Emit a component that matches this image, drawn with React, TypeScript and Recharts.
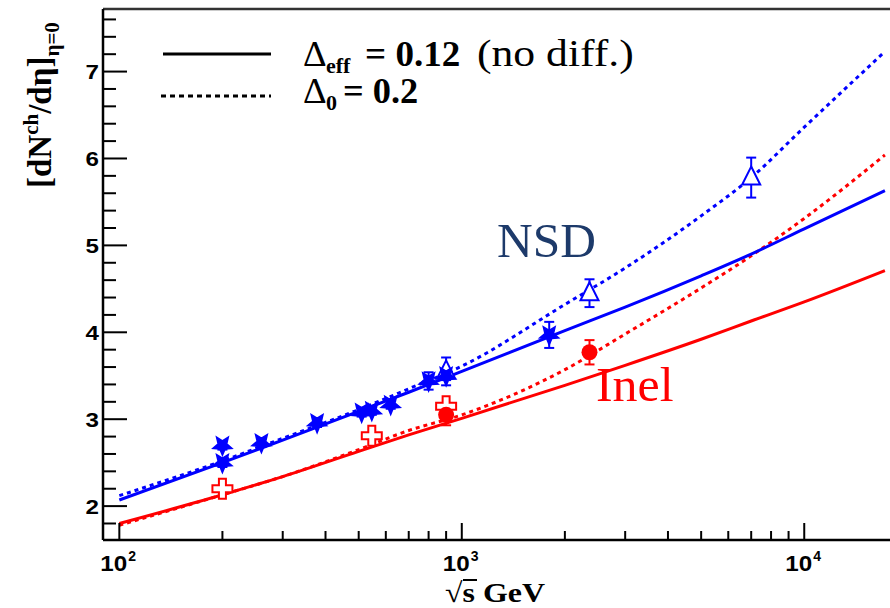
import React from "react";
import { ComposedChart, Line, Scatter, XAxis, YAxis, ErrorBar, ReferenceLine } from "recharts";

const SERIF = "'Liberation Serif', 'Times New Roman', serif";
const SANS = "'Liberation Sans', Arial, sans-serif";
const BLUE = "#0000ff";
const RED = "#ff0000";

// curve sample energies (sqrt(s), GeV)
const curveX = [100, 200, 300, 500, 700, 1000, 2000, 3000, 5000, 7000, 10000, 17200];
const nsdSolidY = [2.07, 2.5, 2.76, 3.09, 3.31, 3.55, 4.02, 4.29, 4.65, 4.9, 5.19, 5.63];
const nsdDottedY = [2.12, 2.52, 2.78, 3.11, 3.35, 3.61, 4.32, 4.74, 5.34, 5.78, 6.36, 7.23];
const inelSolidY = [1.8, 2.13, 2.34, 2.63, 2.82, 3.01, 3.39, 3.62, 3.92, 4.13, 4.35, 4.71];
const inelDottedY = [1.78, 2.13, 2.34, 2.65, 2.87, 3.05, 3.57, 3.98, 4.51, 4.88, 5.31, 6.04];

// data points
const nsdStarX = [200, 200, 260, 378, 510, 546, 620, 800, 900, 1800];
const nsdStarY = [2.7, 2.5, 2.73, 2.96, 3.08, 3.1, 3.17, 3.44, 3.5, 3.97];
const nsdStarErr = [0.05, 0.05, 0.05, 0.05, 0.05, 0.05, 0.05, 0.1, 0.05, 0.15];
const nsdTriX = [900, 2360, 7000];
const nsdTriY = [3.55, 4.45, 5.78];
const nsdTriErr = [0.16, 0.16, 0.23];
const inelCrossX = [200, 546, 900];
const inelCrossY = [2.2, 2.81, 3.15];
const inelCircleX = [900, 2360];
const inelCircleY = [3.05, 3.77];
const inelCircleErr = [0.12, 0.14];

// axes
const xDomain = [89.6, 17800];
const yDomain = [1.61, 7.72];
const xTicks = [100, 200, 300, 400, 500, 600, 700, 800, 900, 1000, 2000, 3000, 4000, 5000, 6000, 7000, 8000, 9000, 10000];
const yTicks = [1.8, 2, 2.2, 2.4, 2.6, 2.8, 3, 3.2, 3.4, 3.6, 3.8, 4, 4.2, 4.4, 4.6, 4.8, 5, 5.2, 5.4, 5.6, 5.8, 6, 6.2, 6.4, 6.6, 6.8, 7, 7.2, 7.4, 7.6];

const zipXY = (xs: number[], ys: number[]) => xs.map((x, i) => ({ x, y: ys[i] }));
const zipErr = (xs: number[], ys: number[], es: number[]) => xs.map((x, i) => ({ x, y: ys[i], err: es[i] }));

const nsdSolid = zipXY(curveX, nsdSolidY);
const nsdDotted = zipXY(curveX, nsdDottedY);
const inelSolid = zipXY(curveX, inelSolidY);
const inelDotted = zipXY(curveX, inelDottedY);
const nsdStars = zipErr(nsdStarX, nsdStarY, nsdStarErr);
const nsdTris = zipErr(nsdTriX, nsdTriY, nsdTriErr);
const inelCrosses = zipXY(inelCrossX, inelCrossY);
const inelCircles = zipErr(inelCircleX, inelCircleY, inelCircleErr);

const Star = (p: any) => {
  const { cx, cy } = p;
  if (cx == null || cy == null) return null;
  const pts: string[] = [];
  for (let i = 0; i < 10; i++) {
    const r = i % 2 === 0 ? 10 : 4.5;
    const a = Math.PI / 2 + (i * Math.PI) / 5;
    pts.push(`${cx + r * Math.cos(a)},${cy + r * Math.sin(a)}`);
  }
  return <polygon points={pts.join(" ")} fill={BLUE} stroke={BLUE} strokeWidth={1.5} />;
};

const Tri = (p: any) => {
  const { cx, cy } = p;
  if (cx == null || cy == null) return null;
  return (
    <polygon
      points={`${cx},${cy - 11} ${cx - 9},${cy + 7} ${cx + 9},${cy + 7}`}
      fill="#fff"
      stroke={BLUE}
      strokeWidth={2}
    />
  );
};

const Cross = (p: any) => {
  const { cx, cy } = p;
  if (cx == null || cy == null) return null;
  const a = 3.5;
  const L = 10;
  const d = `M${cx - a},${cy - L} H${cx + a} V${cy - a} H${cx + L} V${cy + a} H${cx + a} V${cy + L} H${cx - a} V${cy + a} H${cx - L} V${cy - a} H${cx - a} Z`;
  return <path d={d} fill="#fff" stroke={RED} strokeWidth={2} />;
};

const Dot = (p: any) => {
  const { cx, cy } = p;
  if (cx == null || cy == null) return null;
  return <circle cx={cx} cy={cy} r={8} fill={RED} />;
};

const YTick = (props: any) => {
  const { x, y, payload } = props;
  const v = payload.value;
  const major = Math.abs(v - Math.round(v)) < 1e-6;
  return (
    <g>
      <line x1={x} x2={x + (major ? 24 : 13)} y1={y} y2={y} stroke="#000" strokeWidth={2} />
      {major && (
        <text
          transform={`translate(${x - 4},${y + 7.5}) scale(1.15,1)`}
          textAnchor="end"
          fontSize={21}
          fontWeight="bold"
          fontFamily={SANS}
          fill="#000"
        >
          {Math.round(v)}
        </text>
      )}
    </g>
  );
};

const XTick = (props: any) => {
  const { x, y, payload } = props;
  const v = payload.value;
  const e = Math.round(Math.log10(v));
  const major = Math.abs(v - Math.pow(10, e)) < 1e-6;
  return (
    <g>
      <line x1={x} x2={x} y1={y} y2={y - (major ? 17 : 9)} stroke="#000" strokeWidth={2} />
      {major && (
        <g>
          <text
            transform={`translate(${x - 19},${y + 31}) scale(1.1,1)`}
            fontSize={22}
            fontWeight="bold"
            fontFamily={SANS}
            fill="#000"
          >
            10
          </text>
          <text transform={`translate(${x + 9},${y + 21})`} fontSize={14} fontWeight="bold" fontFamily={SANS} fill="#000">
            {e}
          </text>
        </g>
      )}
    </g>
  );
};

const T = (p: any) => {
  const { x, y, size, sx = 1, weight = "normal", fill = "#000", anchor = "start", family = SERIF, children } = p;
  return (
    <text
      transform={`translate(${x},${y}) scale(${sx},1)`}
      fontSize={size}
      fontWeight={weight}
      fill={fill}
      textAnchor={anchor}
      fontFamily={family}
    >
      {children}
    </text>
  );
};

export default function App() {
  return (
    <div style={{ position: "absolute", left: 0, top: 0, width: 890, height: 608, overflow: "hidden", background: "#fff" }}>
      <ComposedChart width={890} height={608} margin={{ top: 9, right: 0, bottom: 0, left: 43 }}>
        <XAxis
          type="number"
          dataKey="x"
          scale="log"
          domain={xDomain}
          allowDataOverflow
          ticks={xTicks}
          interval={0}
          tickSize={0}
          tickMargin={0}
          tick={XTick}
          tickLine={false}
          axisLine={{ stroke: "#000", strokeWidth: 2.5 }}
          height={68}
        />
        <YAxis
          type="number"
          domain={yDomain}
          allowDataOverflow
          ticks={yTicks}
          interval={0}
          width={60}
          tickSize={0}
          tickMargin={0}
          tick={YTick}
          tickLine={false}
          axisLine={{ stroke: "#000", strokeWidth: 2.5 }}
        />
        <ReferenceLine y={yDomain[1]} stroke="#333" strokeWidth={2.5} />
        <Line data={inelSolid} dataKey="y" type="monotone" stroke={RED} strokeWidth={3} dot={false} isAnimationActive={false} />
        <Line data={inelDotted} dataKey="y" type="monotone" stroke={RED} strokeWidth={3} strokeDasharray="4 4" dot={false} isAnimationActive={false} />
        <Line data={nsdSolid} dataKey="y" type="monotone" stroke={BLUE} strokeWidth={3} dot={false} isAnimationActive={false} />
        <Line data={nsdDotted} dataKey="y" type="monotone" stroke={BLUE} strokeWidth={3} strokeDasharray="4 4" dot={false} isAnimationActive={false} />
        <Scatter data={inelCrosses} dataKey="y" shape={Cross} isAnimationActive={false} />
        <Scatter data={inelCircles} dataKey="y" shape={Dot} isAnimationActive={false}>
          <ErrorBar dataKey="err" direction="y" width={5} stroke={RED} strokeWidth={2} />
        </Scatter>
        <Scatter data={nsdTris} dataKey="y" shape={Tri} isAnimationActive={false}>
          <ErrorBar dataKey="err" direction="y" width={5} stroke={BLUE} strokeWidth={2} />
        </Scatter>
        <Scatter data={nsdStars} dataKey="y" shape={Star} isAnimationActive={false}>
          <ErrorBar dataKey="err" direction="y" width={5} stroke={BLUE} strokeWidth={2} />
        </Scatter>
      </ComposedChart>
      <svg width={890} height={608} style={{ position: "absolute", left: 0, top: 0, pointerEvents: "none" }}>
        {/* legend */}
        <line x1={163} x2={271} y1={54} y2={54} stroke="#000" strokeWidth={3} />
        <line x1={161} x2={271} y1={96} y2={96} stroke="#000" strokeWidth={3} strokeDasharray="5 4" />
        <T x={303} y={66} size={35} sx={1.05}>Δ</T>
        <T x={326} y={73} size={20} sx={1.1} weight="bold">eff</T>
        <T x={365} y={66} size={35} sx={1.06} weight="bold">= 0.12</T>
        <T x={477} y={66} size={39} sx={1.12}>(no diff.)</T>
        <T x={303} y={103} size={35} sx={1.05}>Δ</T>
        <T x={326} y={110} size={20} sx={1.1} weight="bold">0</T>
        <T x={343} y={103} size={35} sx={1.04} weight="bold">= 0.2</T>
        {/* curve labels */}
        <T x={497} y={257} size={48} sx={1.03} fill="#1d3a6a">NSD</T>
        <T x={596} y={401} size={48} sx={1.04} fill={RED}>Inel</T>
        {/* axis titles */}
        <text transform="translate(51,188) rotate(-90)" fontFamily={SERIF} fontWeight="bold" fontSize={33} fill="#000">
          [dN
          <tspan fontSize={21} dy={-13}>ch</tspan>
          <tspan dy={13}>/dη]</tspan>
          <tspan fontSize={21} dy={8}>η=0</tspan>
        </text>
        <T x={445} y={602} size={28} sx={1.14} weight="bold">√s GeV</T>
        <line x1={463} x2={477} y1={580} y2={580} stroke="#000" strokeWidth={2} />
      </svg>
    </div>
  );
}
